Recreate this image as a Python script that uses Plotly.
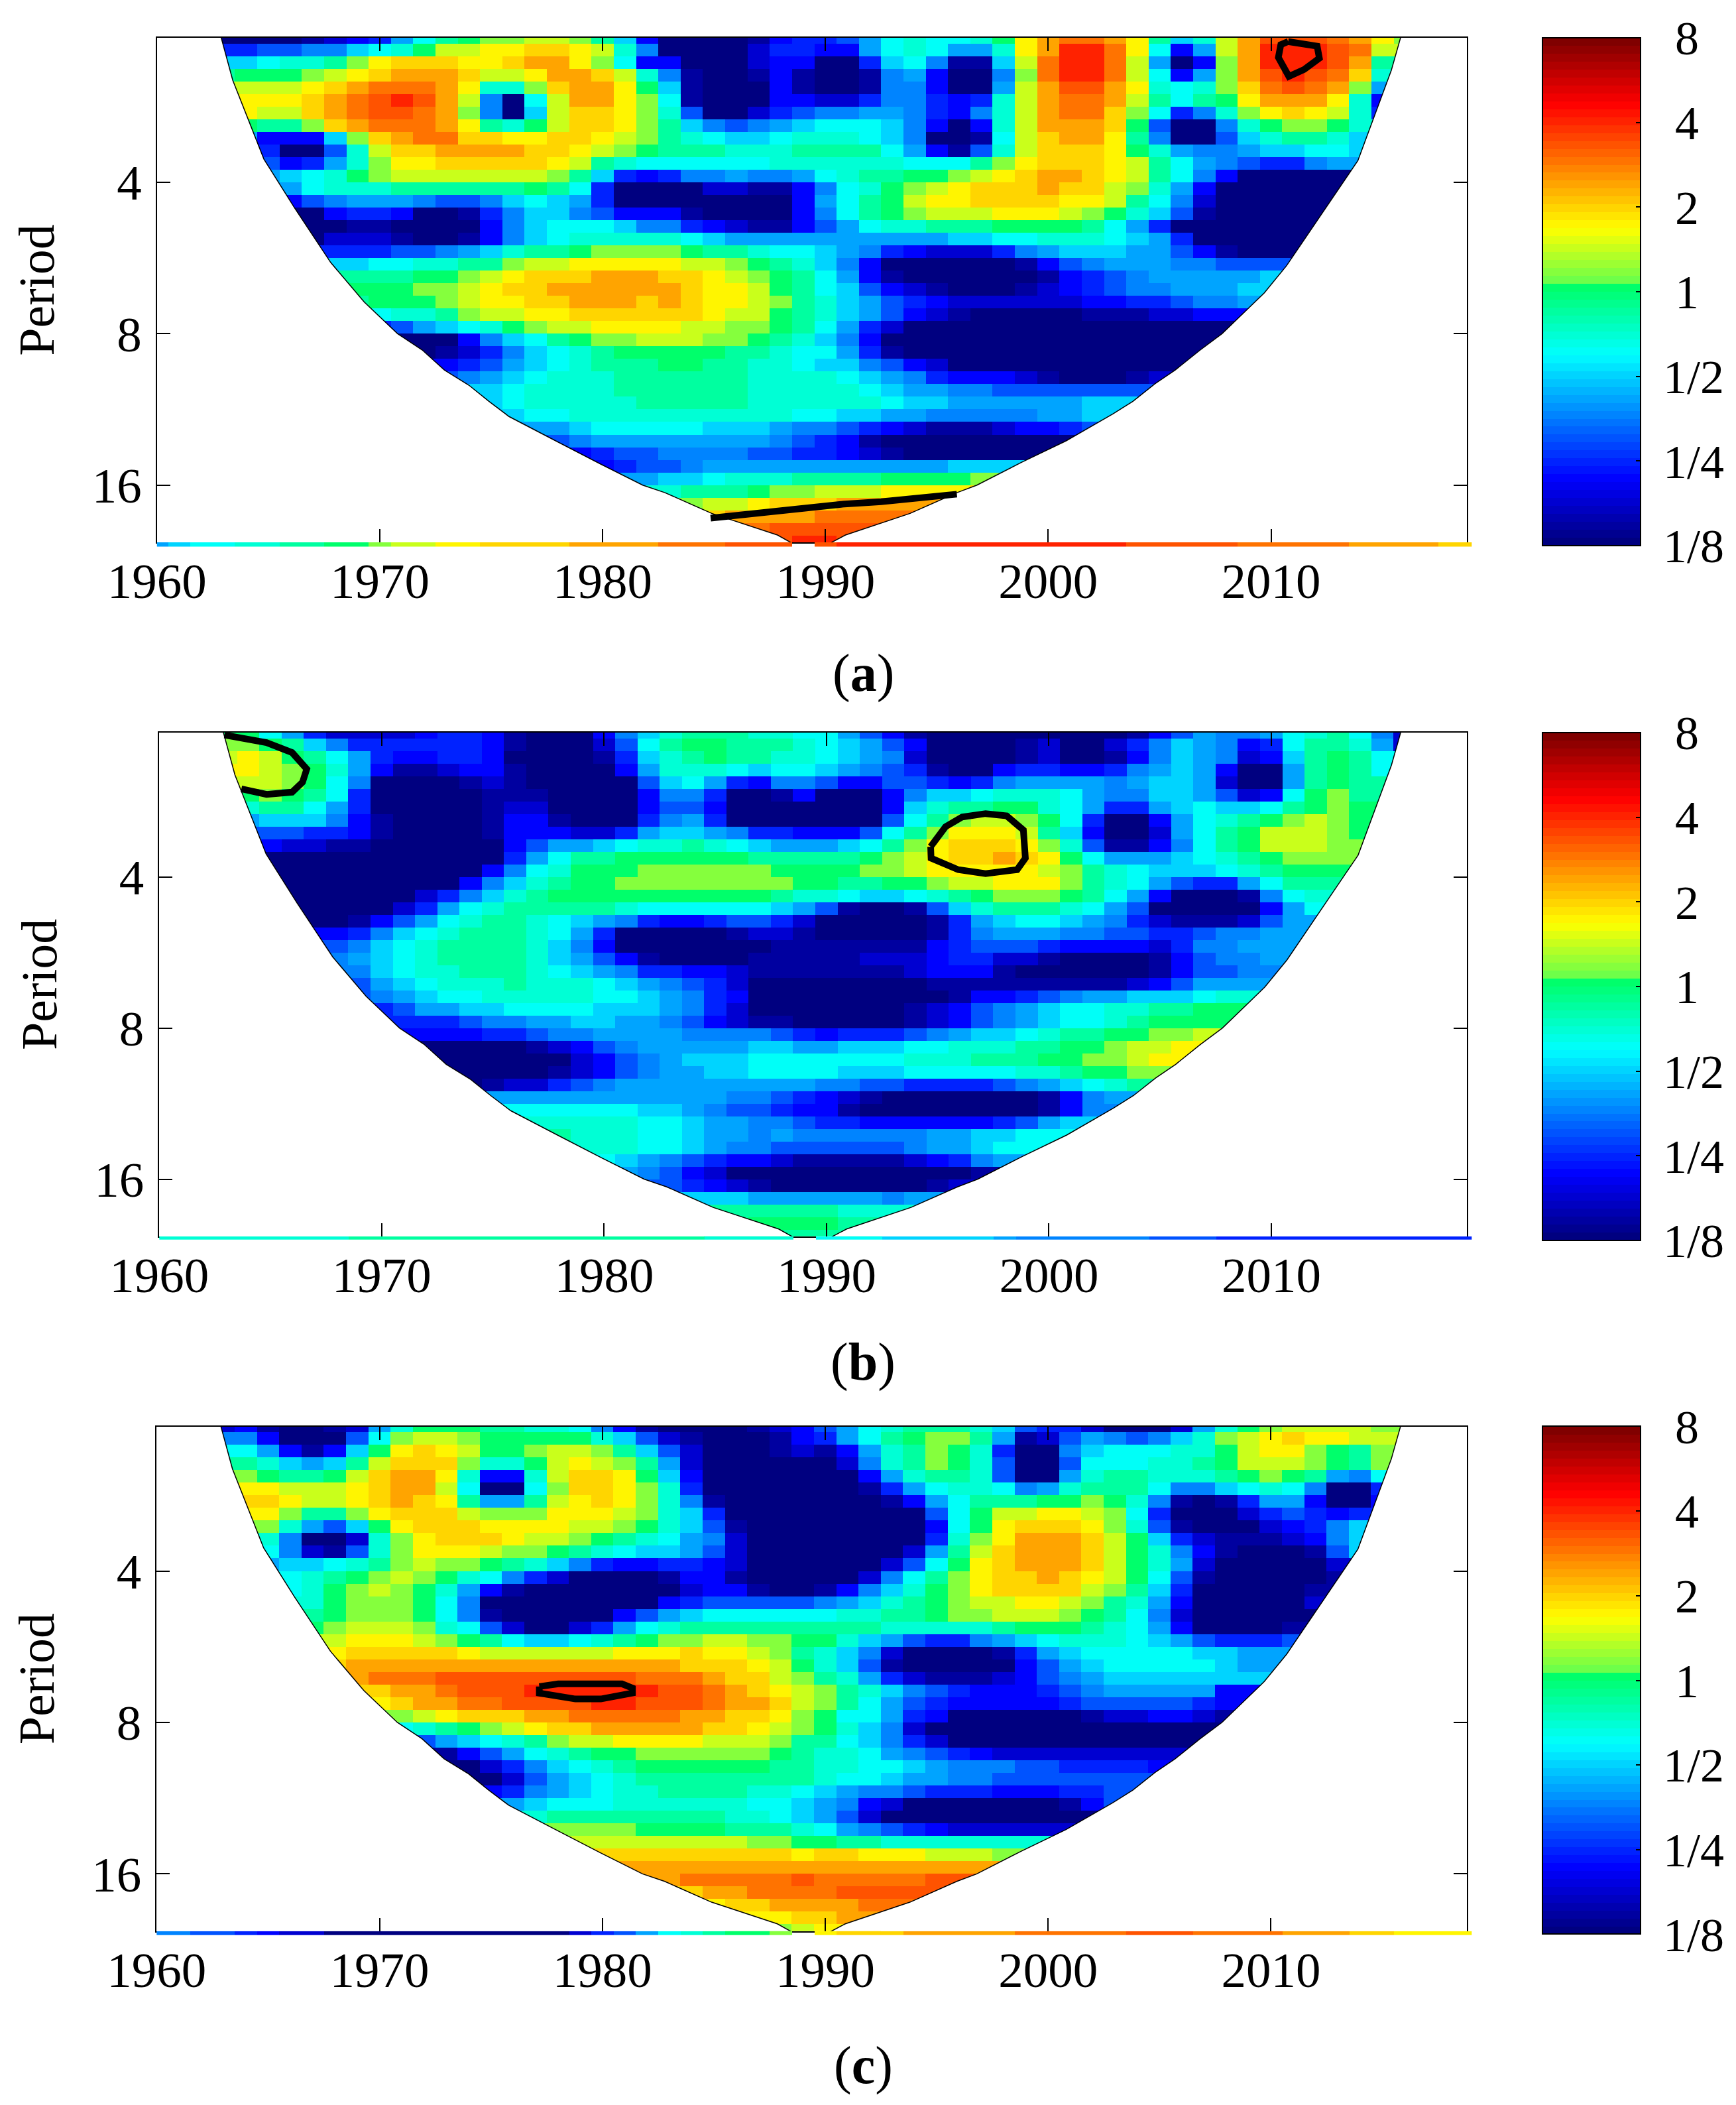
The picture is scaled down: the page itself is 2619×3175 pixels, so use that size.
"""Wavelet power spectra of three series, period against year."""

import numpy as np
import plotly.graph_objects as go

# the page keeps its 8 px body margin, so the figure is 16 px smaller than the window
WIDTH = 2603
HEIGHT = 3159
PAGE_MARGIN = 8
FONT = "Liberation Serif"

years = list(range(1960, 2020))
x_ticks = [1960, 1970, 1980, 1990, 2000, 2010]
period_ticks = [2, 3, 4]
period_labels = ["4", "8", "16"]
power_ticks = [-3, -2, -1, 0, 1, 2, 3]
power_labels = ["\u00a01/8", "\u00a01/4", "\u00a01/2", "\u00a0\u00a01", "\u00a0\u00a02", "\u00a0\u00a04", "\u00a0\u00a08"]

# one char per year, one row per 1/12 octave: 0 = log2 power -3, then steps of 0.25 up to o = +3
power_a = [
    "...0000123 479bcddeed b830000134 4579a99acf hiihfb8aeh jjjihfd...",
    "...4455668 9aceeffggf ea60000244 3379a977af hkkif937eh kkkjie....",
    "...889aabd fgggffghhf d933000233 004896118e ikkie703dh kkkjhb....",
    "...bcccdef ghhhgeefhh gea6100131 001673006d ikkie937dh jkjiga....",
    "...eeeefgh iiihfaadgh hfc8100031 001663007e hjjhfa9adg ijihd7....",
    "...gfffghi jkjhe609eh hfd9100033 22466434ae hiiheb9bcf hhhfa3....",
    "...ffeeghi jjihd608eg gfda500245 66776436ae hiigd946ad fgfea4....",
    "....cbbdgh iiihfbaceg gfdb865678 99986303ae hhhgc5006a cddca.....",
    "....73338d ghiiggffgg fedba9889a aa9860019e ghhfb60058 abba8.....",
    "....34005a egghhhhggf edcbbbaaab bbb97315ae gggfca7667 88998.....",
    ".....5347a dffgggggfe ba999999aa aaaa999bdf gggfeb9765 4467......",
    ".....789ac deeeeeeedb 8434667667 9abbccdefg hhgfeb9630 0000......",
    ".....779aa abbbbbbcb9 4000022113 69acdefggg hggeda7300 000.......",
    "......3567 7765568987 4000000003 79bceffggg gffeb96200 000.......",
    "......0034 4300146886 5333100003 69bcdeeeff fedca85100 00........",
    ".......001 1000036899 9866432113 579aabbbcc ccb9740000 00........",
    ".......022 210013689a aaaa987777 7777778899 aaa9874000 00........",
    "........44 455678abbc ddddcbba99 8764322246 7888775310 0.........",
    "........88 99aabbdeef ffffeedcba 8630000001 3567776655 5.........",
    ".........b bbccdefggg hhhggfedcb 9731000000 1345677777 8.........",
    ".........c ccddefgghh hhhhgffecb 9853210001 2345667778 8.........",
    ".........b cccdeffggh hhghgffedb a875432222 2233445667",
    ".......... 9aabdeeffg gggggfeecb a875321000 0011122333",
    ".......... 45789acdee ffffeeddcb 9742000000 000000000.",
    ".......... .0003689bc ddeeeddcba 8630000000 00000000..",
    ".......... ..0124689a bcccccbba9 9741000000 0000000...",
    ".......... ...345789a bbbccbbaa9 8865320000 000000....",
    ".......... ...56789aa abbbbbbaaa a987643332 100012....",
    ".......... ....889aaa abbbbbbaaa aa98776655 555555....",
    ".......... .....89aaa aabbbbbaaa aaa9887777 77888.....",
    ".......... ......899a aaaaaaaaa9 9887766666 7788......",
    ".......... .......778 9999988876 6543211123 345.......",
    ".......... ........56 7777777765 4310000000 0.........",
    ".......... .........3 4556666554 4321000000 0.........",
    ".......... .......... 3455677777 7777778888",
    ".......... .......... .77889aaab bbbccccdd.",
    ".......... .......... ..aabbbcdd eeeffffg..",
    ".......... .......... ....deefgg ghhhhh....",
    ".......... .......... .....ghhhh iiiii.....",
    ".......... .......... ......iijj jjj.......",
    ".......... .......... .......jjk kj........",
]
power_b = [
    "...cc97422 2234431000 368abbbaa9 9753100000 0000135766 79ab962...",
    "...ddcb864 4444431000 259bccbbba 9875300001 2002468763 49bba72...",
    "...efecb97 4334430000 148abcbbaa 9876200001 2001368762 38bcb9....",
    "...ffedca7 3112331000 037aaa9899 8765410034 4334678730 07bcb9....",
    "...eeedc96 0000121000 0058974366 5335543467 7776788720 07bcb.....",
    "....cdcb94 0000011100 0036640013 00036889aa a976688752 39cdb.....",
    "....abb974 0000012200 0035530000 00038abbcc a974478988 9bcdc.....",
    "....788863 1000013310 0046740000 00059bdeed c9400379ab cdedc.....",
    "....555443 1000013332 2478876443 3359bdfffe b8300279bc eeedc.....",
    ".....32211 0000003577 89aaba9877 789bdfgggf da511369bc eeed......",
    ".....00000 000000479b bccccccbbb bbcdefgghg fc977789ab cddd......",
    ".....00000 00000369ac ccddddddcc ccddefffff edba98889a bccc......",
    ".....00000 0000368abc cddddddddc cbbccdeeff fdba975447 9bb.......",
    "......0000 002468abcc ccccccccba a9889abcdd dcb9730001 69a.......",
    "......0000 02479abbbb ba99999987 5100158abb ba97500000 379.......",
    ".......001 3579abba98 7643345542 0000014789 9876421112 57........",
    ".......334 689abbba97 4000001221 0000014677 7665544566 77........",
    "........56 89abbbba86 3000000011 1111134555 4333324667 77........",
    "........67 89abbbba87 5310000111 1122234422 1000013566 7.........",
    ".........6 89aabbba98 7644332111 1111233310 0000013556",
    ".........5 789aaabaaa 9876542000 0000011111 111123577.",
    ".........5 67899aaaaa 9987643000 0000001334 56778889a.",
    ".......... 4577889999 8887642000 0000123567 899aabbc..",
    ".......... .444566778 8776532110 0000123567 899abccc..",
    ".......... .333344566 7777666654 3444567889 abbccdde..",
    ".......... ..00000123 5677777887 788899aaab bccdeef...",
    ".......... ...0000002 3567888999 9999aaabbb ccddef....",
    ".......... ....000012 3567788999 988899999a abccd.....",
    ".......... ....012245 6777777777 6655444456 789ab.....",
    ".......... .....77777 7777776654 3210000000 1367......",
    ".......... ......9999 9988765543 3100000000 136.......",
    ".......... .......aaa aa99877665 4433333345 78........",
    ".......... ........ba aa99877676 6666677889 9.........",
    ".......... .........a aa99876655 5555677899",
    ".......... .......... 9876543321 111123467.",
    ".......... .......... .765320000 00000001..",
    ".......... .......... ..55432100 0000012...",
    ".......... .......... ....888777 777677....",
    ".......... .......... .....bbbbb baaaa.....",
    ".......... .......... ......bccc cbb.......",
    ".......... .......... .......bbb b.........",
]
power_c = [
    "...2310012 7acccbbaa9 6310000123 579abbba85 44200027ac deeeedd...",
    "...6630005 9deedccccc a852100013 479bcddb71 2576568ade fgffee....",
    "...9973138 cfgfeccdee db85200012 137abdca40 068999aace ffdcbd....",
    "...bba878b egggdaacef edb7200000 026abdca50 05999aabce eedcbd....",
    "...ddcbbce ghhfa33aeg gfc8300000 0037abba50 07abbaaabc dcb769....",
    "...fffeeef ghhe9009dg gfda400000 001479aa96 7abbb96689 a96004....",
    "...gggfeef ghgfb77bef gfda610000 0001379bbb ccdca61014 773003....",
    "....ffdbbd fgggedddff feda840000 0000059cee ffed940002 45434.....",
    "....dda758 cfgggffffe edca851000 0000039cfg ggfda51000 23468.....",
    "....aa6002 adfgggfeed cba9762000 000004adfh hhgec84211 12368.....",
    ".....96215 adfffeddcb a988752000 000027begh hhgeca6310 00158.....",
    ".....7889a bdeddcba86 4334432000 000259cfgh hhgeca7200 0002......",
    ".....99abc dedca96420 0001331000 00269bdfgg hgfec95100 0001......",
    "......9acd edca731000 0000233100 1368acdfgg ggedb84000 001.......",
    "......aacd ddc9600000 0003455555 678abcdeef fedba73000 002.......",
    ".......bcd ddc9610000 0357899999 9aabbcddee edcb962000 00........",
    ".......cde eeda952002 479abbbbbb bbbaaaaabc ccba973000 01........",
    "........ef ffedcb9889 abcddeeddc ca87544678 9aaa987544 45........",
    "........fg ggggfeeeee efffgffedb a862000014 7899999887 7.........",
    "........gh hhhhhhhhhh hhhhgggfec a851000003 5789999987",
    ".........h iiijjjjjjj jjiiihgged ba74211123 567888888.",
    ".........g ghhijjjkkk kkkjjihgfe dba8654333 456777773.",
    ".......... fghhiijjjj kkjjjihhge db97543333 345555543.",
    ".......... ddefggghhi iiiihhggfd c997430000 001223321.",
    ".......... .9abcdefgg hhhhhggfed ca86200000 00000000..",
    ".......... ..5789abde effffeeedb b986420000 0000000...",
    ".......... ...13579ab ccddddddcb aa97654322 222222....",
    ".......... ....024689 abccccccbb aa99876665 544443....",
    ".......... ....002578 9abbbbbbbb a998776655 55555.....",
    ".......... .....34678 9aabbbbaa9 8766544433 3445......",
    ".......... ......7899 9aaaaaa998 7632000000 0135......",
    ".......... .......abb bbbbbbaa98 7520000000 00........",
    ".......... ........dd ddccccbbba 9765432222 2.........",
    ".......... .........e eeeeeeeddc cbbaaaaaaa",
    ".......... .......... gggggggggf ggfffeeed.",
    ".......... .......... .hhhhhhhhh hhhhhhhh..",
    ".......... .......... ..hhiiiiij iiiiijj...",
    ".......... .......... ....ghhiii ijjjj.....",
    ".......... .......... .....fgghh hhii......",
    ".......... .......... .......ffg gh........",
    ".......... .......... ........de f.........",
]

# the bottom row, visible as a thin band under each panel
strip_a = "7899aabbcc deeffggggh hhhiiijjj. jkkkkkkkkk kkkkjjjjji iiiihhhhgg"
strip_b = "aaaaaaaaab bbbbbbbbbb bbbbbaaaa. 9998888876 6666655544 4444444444"
strip_c = "6655432200 0000000002 4579abccd. fggghhhhhi iiiijjjiii ihhhggffff"

# cone of influence, year against log2(period)
coi_left_years = [1962.8, 1963.4, 1964.8, 1966.2, 1967.8, 1969.3, 1970.8, 1971.9, 1972.9, 1974.0,
                  1974.9, 1975.8, 1977.9, 1979.9, 1981.8, 1982.8, 1984.9, 1987.85, 1988.7]
coi_left_log2 = [1.0, 1.325, 1.847, 2.174, 2.53, 2.79, 3.0, 3.107, 3.24, 3.34,
                 3.447, 3.547, 3.708, 3.86, 4.0, 4.05, 4.187, 4.33, 4.4]
coi_right_years = [1990.0, 1990.9, 1993.8, 1995.9, 1996.8, 1998.8, 2000.8, 2002.9, 2003.8, 2004.8,
                   2005.7, 2006.8, 2007.8, 2009.7, 2010.7, 2013.9, 2015.4, 2015.9]
coi_right_log2 = [4.4, 4.33, 4.187, 4.05, 4.0, 3.85, 3.708, 3.53, 3.447, 3.33,
                  3.24, 3.11, 3.0, 2.73, 2.55, 1.856, 1.26, 1.0]

# significance contours
sig_a1_years = [2010.77, 2012.07, 2012.17, 2011.49, 2010.80, 2010.5, 2010.33, 2010.44, 2010.77]
sig_a1_log2 = [1.07, 1.10, 1.18, 1.254, 1.30, 1.224, 1.175, 1.09, 1.07]
sig_a2_years = [1984.85, 1985.9, 1988.0, 1990.7, 1992.5, 1994.7, 1995.9]
sig_a2_log2 = [4.218, 4.20, 4.167, 4.127, 4.11, 4.083, 4.06]
sig_b1_years = [1962.93, 1964.82, 1965.97, 1966.63, 1966.44, 1965.97, 1964.82, 1963.69]
sig_b1_log2 = [1.061, 1.111, 1.177, 1.286, 1.373, 1.439, 1.454, 1.417]
sig_b2_years = [1994.68, 1995.35, 1996.1, 1997.15, 1998.1, 1998.85, 1998.94, 1998.57, 1997.15, 1995.92, 1994.7, 1994.68]
sig_b2_log2 = [1.80, 1.668, 1.603, 1.581, 1.596, 1.69, 1.876, 1.952, 1.978, 1.952, 1.876, 1.80]
sig_c1_years = [1977.17, 1978.02, 1980.88, 1981.35, 1981.35, 1979.93, 1978.79, 1977.17, 1977.17]
sig_c1_log2 = [2.763, 2.745, 2.745, 2.773, 2.806, 2.845, 2.845, 2.806, 2.763]

panels = [
    dict(name="a", rows=power_a, strip=strip_a, sig=[(sig_a1_years, sig_a1_log2), (sig_a2_years, sig_a2_log2)],
         left=237, top=57, bottom=818, strip_bottom=824.5, bar_top=57, label_y=1015),
    dict(name="b", rows=power_b, strip=strip_b, sig=[(sig_b1_years, sig_b1_log2), (sig_b2_years, sig_b2_log2)],
         left=240.5, top=1105, bottom=1864.7, strip_bottom=1870, bar_top=1105, label_y=2054),
    dict(name="c", rows=power_c, strip=strip_c, sig=[(sig_c1_years, sig_c1_log2)],
         left=236.5, top=2151.5, bottom=2912.7, strip_bottom=2919, bar_top=2151.5, label_y=3115),
]

RIGHT = 2215
STRIP_RIGHT = 2222
BAR_LEFT = 2329
BAR_WIDTH = 147.5
BAR_LEN = 766


def decode(row, pad=0):
    """Turn one row of level chars into log2 power values."""
    row = row.replace(" ", "").ljust(60, ".")[:60]
    values = [None if c == "." else -3 + 0.25 * int(c, 25) for c in row]
    # cells just outside the cone sit under its white mask, so repeat the edge cell there
    for _ in range(pad):
        filled = [i for i, v in enumerate(values) if v is not None]
        if filled:
            values[max(filled[0] - 1, 0)] = values[filled[0]]
            values[min(filled[-1] + 1, 59)] = values[filled[-1]]
    return values


def stepped_jet():
    """The 64-step jet map of the colourbar, with its small jump just above 1."""
    t = [0, 0.125, 0.375, 0.512, 0.514, 0.625, 0.875, 1]
    r = [0, 0, 0, 0, 96, 255, 255, 128]
    g = [0, 0, 255, 255, 255, 255, 0, 0]
    b = [128, 255, 255, 102, 80, 0, 0, 0]
    scale = []
    for i in range(64):
        pos = i / 63
        color = f"rgb({np.interp(pos, t, r):.0f},{np.interp(pos, t, g):.0f},{np.interp(pos, t, b):.0f})"
        scale += [[i / 64, color], [(i + 1) / 64, color]]
    return scale


def xfrac(px):
    return (px - PAGE_MARGIN) / WIDTH


def yfrac(px):
    return 1 - (px - PAGE_MARGIN) / HEIGHT


JET = stepped_jet()
y_edges = (1 + np.arange(42) / 12).tolist()
axis_font = dict(family=FONT, size=75, color="black")

fig = go.Figure()
layout = {}
for n, p in enumerate(panels):
    main = n + 1
    strip = n + 4
    xname, yname = ("x", "y") if main == 1 else (f"x{main}", f"y{main}")
    fig.add_trace(go.Heatmap(
        x=years, y=y_edges, z=[decode(r, pad=2) for r in p["rows"]],
        xaxis=xname, yaxis=yname,
        colorscale=JET, zmin=-3, zmax=3,
        colorbar=dict(
            x=xfrac(BAR_LEFT), xanchor="left", xpad=0, ypad=0,
            y=yfrac(p["bar_top"] + BAR_LEN / 2), yanchor="middle",
            thickness=BAR_WIDTH, thicknessmode="pixels",
            len=BAR_LEN, lenmode="pixels",
            tickmode="array", tickvals=power_ticks, ticktext=power_labels,
            ticks="inside", ticklen=8, tickcolor="black", tickwidth=2,
            outlinecolor="black", outlinewidth=2,
            tickfont=dict(family=FONT, size=72, color="black"),
        ),
    ))
    fig.add_trace(go.Heatmap(
        x=years, y=[0], z=[decode(p["strip"])],
        xaxis=f"x{strip}", yaxis=f"y{strip}",
        colorscale=JET, zmin=-3, zmax=3, showscale=False,
    ))
    # white outside the cone of influence
    fig.add_trace(go.Scatter(
        x=coi_left_years + [1950, 1950, coi_left_years[0], None] + coi_right_years + [2030, 2030, coi_right_years[0]],
        y=coi_left_log2 + [4.4, 1.0, 1.0, None] + coi_right_log2 + [1.0, 4.4, 4.4],
        xaxis=xname, yaxis=yname,
        mode="lines", fill="toself", fillcolor="white",
        line=dict(color="black", width=1.5), hoverinfo="skip", showlegend=False,
    ))
    for sig_years, sig_log2 in p["sig"]:
        fig.add_trace(go.Scatter(
            x=sig_years, y=sig_log2, xaxis=xname, yaxis=yname,
            mode="lines", line=dict(color="black", width=10), hoverinfo="skip", showlegend=False,
        ))

    suffix = "" if main == 1 else str(main)
    layout[f"xaxis{suffix}"] = dict(
        domain=[xfrac(p["left"]), xfrac(RIGHT)], range=[1960, 2018.8], anchor=yname, automargin=False,
        tickmode="array", tickvals=x_ticks, ticks="inside", ticklen=20, tickwidth=2, tickcolor="black",
        showline=True, linecolor="black", linewidth=2, mirror="allticks", showgrid=False, zeroline=False,
        tickfont=axis_font, ticklabelstandoff=-8,
    )
    layout[f"yaxis{suffix}"] = dict(
        domain=[yfrac(p["bottom"]), yfrac(p["top"])], range=[4.378, 1.045], anchor=xname, automargin=False,
        tickmode="array", tickvals=period_ticks, ticktext=period_labels,
        ticks="inside", ticklen=20, tickwidth=2, tickcolor="black",
        showline=True, linecolor="black", linewidth=2, mirror="allticks", showgrid=False, zeroline=False,
        tickfont=axis_font, ticklabelstandoff=6,
        title=dict(text="Period", font=dict(family=FONT, size=76, color="black"), standoff=32),
    )
    layout[f"xaxis{strip}"] = dict(
        domain=[xfrac(p["left"]), xfrac(STRIP_RIGHT)], range=[1960, 2019], anchor=f"y{strip}",
        visible=False, automargin=False,
    )
    layout[f"yaxis{strip}"] = dict(
        domain=[yfrac(p["strip_bottom"]), yfrac(p["bottom"])], range=[-0.5, 0.5], anchor=f"x{strip}",
        visible=False, automargin=False,
    )

fig.update_layout(
    width=WIDTH, height=HEIGHT,
    margin=dict(l=0, r=0, t=0, b=0),
    paper_bgcolor="white", plot_bgcolor="white",
    showlegend=False,
    annotations=[
        dict(
            text=f"(<b>{p['name']}</b>)", x=xfrac(1303), y=yfrac(p["label_y"]),
            xref="paper", yref="paper", xanchor="center", yanchor="middle", showarrow=False,
            font=dict(family=FONT, size=80, color="black"),
        )
        for p in panels
    ],
    **layout,
)

fig.write_html("out.html")
